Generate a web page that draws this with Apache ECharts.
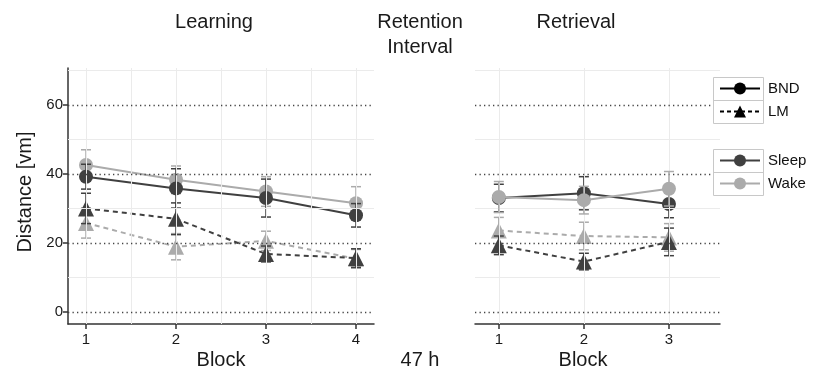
<!DOCTYPE html>
<html><head><meta charset="utf-8">
<script src="https://cdn.jsdelivr.net/npm/echarts@6/dist/echarts.min.js"></script>
<style>html,body{margin:0;padding:0;background:#fff}#c{width:817px;height:373px}</style>
</head><body><div id="c"></div>
<script>
// ---- data ----
const yTicks = [0, 20, 40, 60];
const yMinor = [10, 30, 50, 70];
const learnBlocks = [1, 2, 3, 4];
const retrBlocks = [1, 2, 3];
const learnVGrid = [1, 1.5, 2, 2.5, 3, 3.5, 4];
const retrVGrid = [1, 2, 3];

const learnSleepBND = [39.2, 35.8, 33.0, 28.0];
const learnSleepBNDse = [3.6, 5.7, 5.5, 3.4];
const learnWakeBND = [42.6, 38.3, 34.9, 31.5];
const learnWakeBNDse = [4.4, 4.0, 4.3, 4.8];
const learnSleepLM = [30.0, 27.0, 16.8, 15.6];
const learnSleepLMse = [4.4, 4.6, 2.3, 2.7];
const learnWakeLM = [25.8, 18.9, 20.6, 15.4];
const learnWakeLMse = [4.4, 3.8, 2.8, 2.7];

const retrSleepBND = [33.0, 34.4, 31.3];
const retrSleepBNDse = [4.0, 4.8, 4.0];
const retrWakeBND = [33.3, 32.4, 35.7];
const retrWakeBNDse = [4.5, 4.0, 5.0];
const retrSleepLM = [19.3, 14.6, 20.3];
const retrSleepLMse = [2.7, 2.4, 4.0];
const retrWakeLM = [23.6, 22.0, 21.6];
const retrWakeLMse = [3.8, 4.0, 4.0];

// ---- style ----
const FONT = "'Liberation Sans', Arial, Helvetica, sans-serif";
const DARK = '#404040';
const LIGHT = '#ababab';
const AXIS = '#333333';

function pairs(xs, ys) { return xs.map((x, i) => [x, ys[i]]); }
function errData(xs, ys, se) { return xs.map((x, i) => [x, ys[i] - se[i], ys[i] + se[i]]); }

function errSeries(gi, xs, ys, se, color, z) {
  return {
    type: 'custom', xAxisIndex: gi, yAxisIndex: gi, z: z, silent: true,
    data: errData(xs, ys, se),
    renderItem: function (params, api) {
      const x = api.value(0), lo = api.value(1), hi = api.value(2);
      const p1 = api.coord([x, lo]), p2 = api.coord([x, hi]);
      const w = 5;
      const st = { stroke: color, lineWidth: 1.5 };
      return { type: 'group', children: [
        { type: 'line', shape: { x1: p1[0], y1: p1[1], x2: p2[0], y2: p2[1] }, style: st },
        { type: 'line', shape: { x1: p1[0] - w, y1: p1[1], x2: p1[0] + w, y2: p1[1] }, style: st },
        { type: 'line', shape: { x1: p2[0] - w, y1: p2[1], x2: p2[0] + w, y2: p2[1] }, style: st }
      ]};
    }
  };
}
function lineSeries(gi, xs, ys, color, dashed, sym, z) {
  return {
    type: 'line', xAxisIndex: gi, yAxisIndex: gi, z: z, silent: true,
    data: pairs(xs, ys),
    symbol: sym, symbolSize: sym === 'triangle' ? 16 : 14,
    itemStyle: { color: color },
    lineStyle: { color: color, width: 2, type: dashed ? [5, 4] : 'solid' },
    emphasis: { disabled: true }
  };
}
function gridSeries(gi, vgrid, kind) {
  const d = [];
  let ls;
  if (kind === 'minor') {
    yMinor.forEach(v => d.push({ yAxis: v }));
    vgrid.forEach(v => d.push({ xAxis: v }));
    ls = { color: '#ebebeb', width: 1, type: 'solid' };
  } else {
    yTicks.forEach(v => d.push({ yAxis: v }));
    ls = { color: '#444', width: 1.3, type: [1.3, 3.2] };
  }
  return {
    type: 'line', xAxisIndex: gi, yAxisIndex: gi, z: 1, silent: true,
    data: [[vgrid[0], 0]], showSymbol: false, symbol: 'none', lineStyle: { opacity: 0 },
    markLine: { silent: true, symbol: 'none', animation: false, label: { show: false }, lineStyle: ls,
      emphasis: { disabled: true }, data: d }
  };
}
function legendDummy(name, color, dashed, sym) {
  return { type: 'line', name: name, xAxisIndex: 0, yAxisIndex: 0, data: [],
    symbol: sym, symbolSize: 12, itemStyle: { color: color },
    lineStyle: { color: color, width: 2, type: dashed ? [4, 3] : 'solid' } };
}

const series = [
  gridSeries(0, learnVGrid, 'minor'), gridSeries(1, retrVGrid, 'minor'),
  gridSeries(0, learnVGrid, 'major'), gridSeries(1, retrVGrid, 'major'),
  // Learning
  lineSeries(0, learnBlocks, learnWakeLM, LIGHT, true, 'triangle', 3),
  errSeries(0, learnBlocks, learnWakeLM, learnWakeLMse, LIGHT, 3),
  lineSeries(0, learnBlocks, learnWakeBND, LIGHT, false, 'circle', 3),
  errSeries(0, learnBlocks, learnWakeBND, learnWakeBNDse, LIGHT, 3),
  lineSeries(0, learnBlocks, learnSleepLM, DARK, true, 'triangle', 4),
  errSeries(0, learnBlocks, learnSleepLM, learnSleepLMse, DARK, 4),
  lineSeries(0, learnBlocks, learnSleepBND, DARK, false, 'circle', 4),
  errSeries(0, learnBlocks, learnSleepBND, learnSleepBNDse, DARK, 4),
  // Retrieval
  lineSeries(1, retrBlocks, retrWakeLM, LIGHT, true, 'triangle', 3),
  errSeries(1, retrBlocks, retrWakeLM, retrWakeLMse, LIGHT, 3),
  lineSeries(1, retrBlocks, retrSleepLM, DARK, true, 'triangle', 4),
  errSeries(1, retrBlocks, retrSleepLM, retrSleepLMse, DARK, 4),
  lineSeries(1, retrBlocks, retrSleepBND, DARK, false, 'circle', 4),
  errSeries(1, retrBlocks, retrSleepBND, retrSleepBNDse, DARK, 4),
  lineSeries(1, retrBlocks, retrWakeBND, LIGHT, false, 'circle', 5),
  errSeries(1, retrBlocks, retrWakeBND, retrWakeBNDse, LIGHT, 5),
  // legend keys
  legendDummy('BND', '#000', false, 'circle'),
  legendDummy('LM', '#000', true, 'triangle'),
  legendDummy('Sleep', DARK, false, 'circle'),
  legendDummy('Wake', LIGHT, false, 'circle')
];

function xAxisCfg(gi, min, max, ticks) {
  return { type: 'value', gridIndex: gi, min: min, max: max,
    splitLine: { show: false },
    axisLine: { show: true, onZero: false, lineStyle: { color: AXIS, width: 1.5 } },
    axisTick: { show: true, length: 5, customValues: ticks, lineStyle: { color: AXIS, width: 1.5 } },
    axisLabel: { customValues: ticks, fontSize: 15, color: '#1a1a1a', fontFamily: FONT, margin: 8 } };
}
function yAxisCfg(gi, showAxis) {
  return { type: 'value', gridIndex: gi, min: -3.5, max: 70.7,
    splitLine: { show: false },
    axisLine: { show: showAxis, onZero: false, lineStyle: { color: AXIS, width: 1.5 } },
    axisTick: { show: showAxis, length: 5, customValues: yTicks, lineStyle: { color: AXIS, width: 1.5 } },
    axisLabel: { show: showAxis, customValues: yTicks, fontSize: 15, color: '#1a1a1a', fontFamily: FONT, margin: 5 } };
}

function txt(x, y, s, size, rot) {
  return { type: 'text', x: x, y: y, rotation: rot || 0, z: 10,
    style: { text: s, font: size + 'px ' + FONT, fill: '#1a1a1a', textAlign: 'center', textVerticalAlign: 'middle' } };
}
const boxStyle = { fill: '#fff', stroke: '#c8c8c8', lineWidth: 1 };
const graphics = [
  txt(214, 22, 'Learning', 20),
  txt(420, 22, 'Retention', 20),
  txt(420, 47, 'Interval', 20),
  txt(576, 22, 'Retrieval', 20),
  txt(221, 360, 'Block', 20),
  txt(583, 360, 'Block', 20),
  txt(420, 360, '47 h', 20),
  txt(25, 192, 'Distance [vm]', 20, Math.PI / 2),
  { type: 'rect', z: 6, shape: { x: 713.5, y: 77.5, width: 50, height: 46 }, style: boxStyle },
  { type: 'line', z: 6, shape: { x1: 713.5, y1: 100.5, x2: 763.5, y2: 100.5 }, style: { stroke: '#c8c8c8', lineWidth: 1 } },
  { type: 'rect', z: 6, shape: { x: 713.5, y: 149.5, width: 50, height: 46 }, style: boxStyle },
  { type: 'line', z: 6, shape: { x1: 713.5, y1: 172.5, x2: 763.5, y2: 172.5 }, style: { stroke: '#c8c8c8', lineWidth: 1 } }
];

function legendCfg(names, top) {
  return { data: names, orient: 'vertical', left: 719, top: top, padding: 0,
    itemWidth: 40, itemHeight: 15, itemGap: 8, selectedMode: false, z: 8,
    textStyle: { fontSize: 15, color: '#111', fontFamily: FONT, padding: [0, 0, 0, 3] } };
}

const chart = echarts.init(document.getElementById('c'), null, { renderer: 'canvas' });
chart.setOption({
  animation: false,
  backgroundColor: '#fff',
  grid: [
    { left: 68, top: 68, width: 306, height: 256 },
    { left: 475, top: 68, width: 245, height: 256 }
  ],
  xAxis: [xAxisCfg(0, 0.8, 4.2, learnBlocks), xAxisCfg(1, 0.72, 3.6, retrBlocks)],
  yAxis: [yAxisCfg(0, true), yAxisCfg(1, false)],
  legend: [legendCfg(['BND', 'LM'], 81), legendCfg(['Sleep', 'Wake'], 153)],
  graphic: graphics,
  series: series
});
</script></body></html>
